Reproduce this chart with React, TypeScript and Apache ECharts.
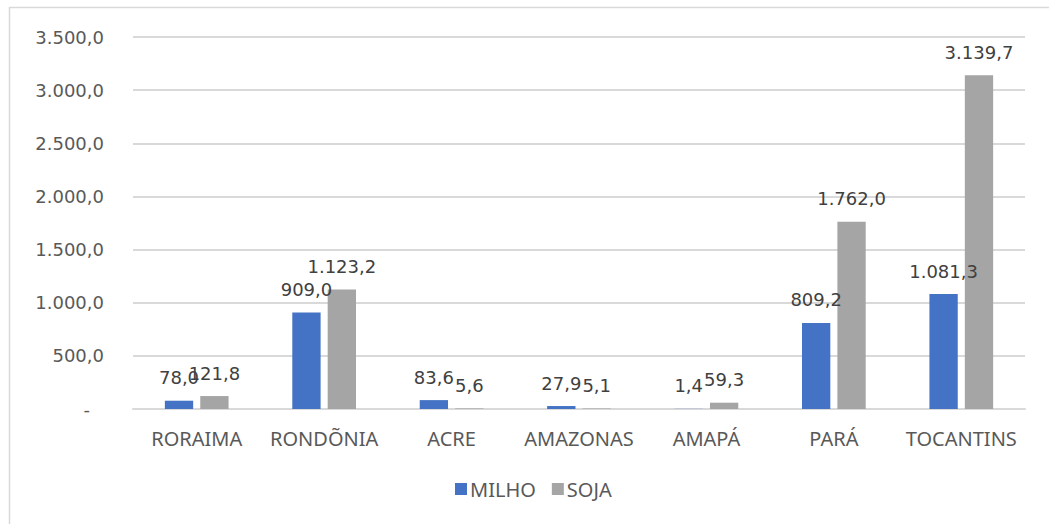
import React, { useEffect, useRef } from "react";
import * as echarts from "echarts";

const categories = ["RORAIMA", "RONDÕNIA", "ACRE", "AMAZONAS", "AMAPÁ", "PARÁ", "TOCANTINS"];
const milho = [78.0, 909.0, 83.6, 27.9, 1.4, 809.2, 1081.3];
const soja = [121.8, 1123.2, 5.6, 5.1, 59.3, 1762.0, 3139.7];
const seriesNames = ["MILHO", "SOJA"];

function fmt(v: number): string {
  const fixed = Math.abs(v).toFixed(1);
  const [intPart, dec] = fixed.split(".");
  const withDots = intPart.replace(/\B(?=(\d{3})+(?!\d))/g, ".");
  return (v < 0 ? "-" : "") + withDots + "," + dec;
}

const NUM_FONT = "DejaVu Sans";
const TXT_FONT = "Noto Sans";

export default function App() {
  const ref = useRef<HTMLDivElement>(null);
  useEffect(() => {
    if (!ref.current) return;
    const chart = echarts.init(ref.current, null, { renderer: "svg" });
    const labelCfg = {
      show: true,
      position: "top" as const,
      distance: 14,
      color: "#404040",
      fontFamily: NUM_FONT,
      fontSize: 18,
      formatter: (p: any) => fmt(p.value),
    };
    chart.setOption({
      animation: false,
      backgroundColor: "#ffffff",
      graphic: [
        {
          type: "rect",
          shape: { x: 9.5, y: 7.5, width: 1100, height: 600 },
          style: { fill: "none", stroke: "#d9d9d9", lineWidth: 1.5 },
          silent: true,
        },
      ],
      grid: { left: 133, right: 24, top: 37, bottom: 115, containLabel: false },
      legend: {
        data: seriesNames,
        bottom: 20,
        left: 450,
        icon: "rect",
        itemWidth: 12,
        itemHeight: 12,
        itemGap: 16,
        textStyle: { color: "#595959", fontFamily: TXT_FONT, fontSize: 20, padding: [0, 0, 0, -2] },
      },
      xAxis: {
        type: "category",
        data: categories,
        axisLine: { show: true, lineStyle: { color: "#d9d9d9", width: 2 } },
        axisTick: { show: false },
        axisLabel: { color: "#595959", fontFamily: TXT_FONT, fontSize: 20, margin: 19, interval: 0 },
      },
      yAxis: {
        type: "value",
        min: 0,
        max: 3500,
        interval: 500,
        axisLine: { show: false },
        axisTick: { show: false },
        splitLine: { lineStyle: { color: "#d9d9d9", width: 2 } },
        axisLabel: {
          color: "#595959",
          fontFamily: NUM_FONT,
          fontSize: 18,
          margin: 29,
          formatter: (v: number) => (v === 0 ? "{d|-}" : fmt(v)),
          rich: { d: { padding: [0, 14, 0, 0], color: "#595959", fontFamily: NUM_FONT, fontSize: 18 } },
        },
      },
      series: [
        {
          name: seriesNames[0],
          type: "bar",
          data: milho,
          itemStyle: { color: "#4472C4" },
          barGap: "25%",
          barCategoryGap: "50%",
          label: labelCfg,
        },
        {
          name: seriesNames[1],
          type: "bar",
          data: soja,
          itemStyle: { color: "#A5A5A5" },
          barGap: "25%",
          barCategoryGap: "50%",
          label: labelCfg,
        },
      ],
    });
    return () => chart.dispose();
  }, []);
  return (
    <div
      ref={ref}
      style={{ position: "fixed", left: 0, top: 0, width: 1049, height: 524 }}
    />
  );
}
